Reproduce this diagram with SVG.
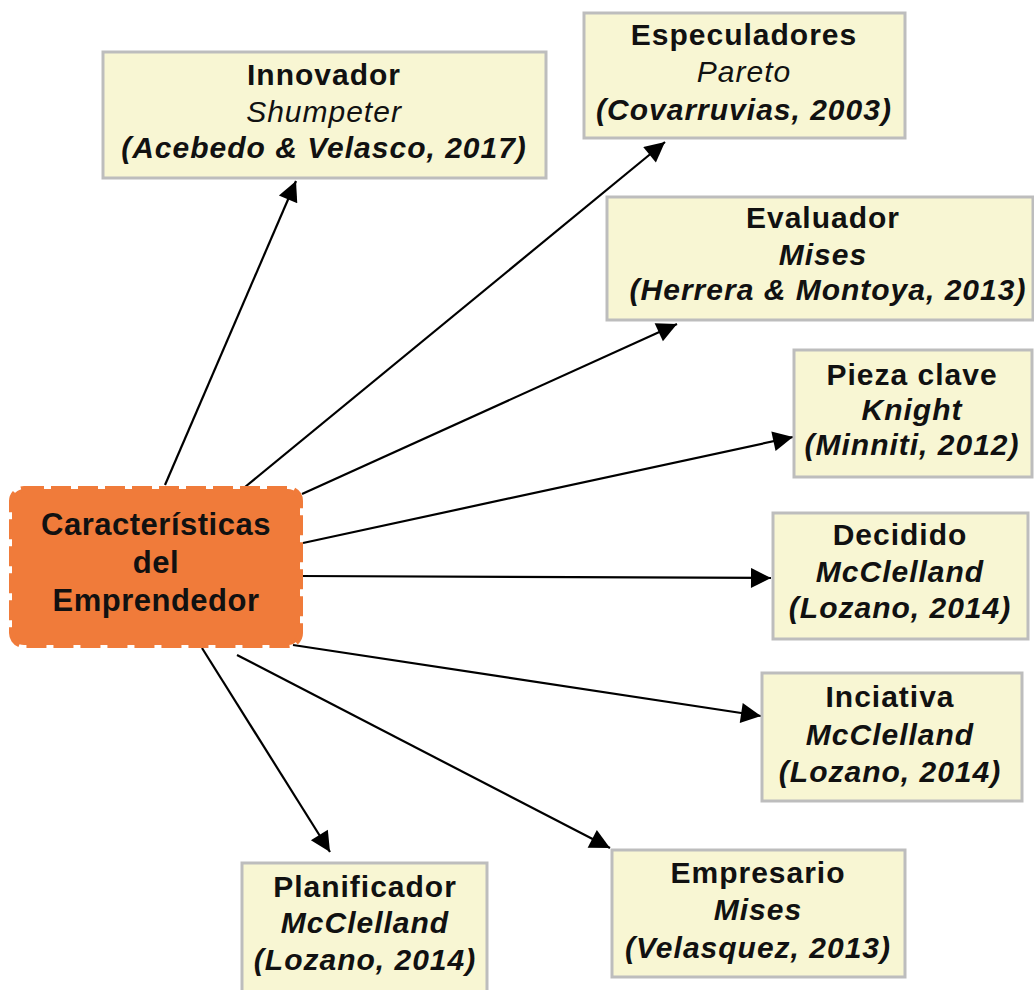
<svg xmlns="http://www.w3.org/2000/svg" width="1034" height="990" viewBox="0 0 1034 990">
  <defs>
    <marker id="arrow" viewBox="0 0 10 10" refX="10" refY="5" markerWidth="25" markerHeight="20" markerUnits="userSpaceOnUse" orient="auto">
      <path d="M0,0 L10,5 L0,10 z" fill="#000"/>
    </marker>
    <style>
      .box { fill: #F8F6D3; stroke: #BDBDBD; stroke-width: 3; }
      .t { font-family: "Liberation Sans", Arial, sans-serif; font-size: 30px; letter-spacing: 1px; fill: #111; text-anchor: middle; }
      .b { font-weight: bold; }
      .i { font-style: italic; }
      .bi { font-weight: bold; font-style: italic; }
      .hub { font-family: "Liberation Sans", Arial, sans-serif; font-size: 31px; letter-spacing: 0.5px; font-weight: bold; fill: #111; text-anchor: middle; }
      .edge { stroke: #000; stroke-width: 2.2; fill: none; marker-end: url(#arrow); }
    </style>
  </defs>
  <rect width="1034" height="990" fill="#fff"/>

  <!-- connectors -->
  <g id="connectors">
    <line class="edge" x1="165" y1="485" x2="296" y2="181"/>
    <line class="edge" x1="245" y1="487" x2="665" y2="142"/>
    <line class="edge" x1="302" y1="494" x2="677" y2="324"/>
    <line class="edge" x1="303" y1="543" x2="793" y2="437"/>
    <line class="edge" x1="299" y1="576" x2="771" y2="578"/>
    <line class="edge" x1="293" y1="645" x2="761" y2="716"/>
    <line class="edge" x1="237" y1="655" x2="610" y2="848"/>
    <line class="edge" x1="202" y1="648" x2="330" y2="852"/>
  </g>

  <!-- central node -->
  <g id="hub">
    <rect x="12" y="489" width="288" height="156" rx="12" fill="#F07B3A" stroke="#F07B3A" stroke-width="6" stroke-dasharray="20 7"/>
    <text class="hub" x="156" y="535">Características</text>
    <text class="hub" x="156" y="573">del</text>
    <text class="hub" x="156" y="611">Emprendedor</text>
  </g>

  <g id="innovador">
    <rect class="box" x="103" y="52" width="443" height="126"/>
    <text class="t b" x="324" y="85">Innovador</text>
    <text class="t i" x="324" y="122">Shumpeter</text>
    <text class="t bi" x="324" y="158">(Acebedo &amp; Velasco, 2017)</text>
  </g>

  <g id="especuladores">
    <rect class="box" x="584" y="13" width="321" height="125"/>
    <text class="t b" x="744" y="45">Especuladores</text>
    <text class="t i" x="744" y="82">Pareto</text>
    <text class="t bi" x="744" y="120">(Covarruvias, 2003)</text>
  </g>

  <g id="evaluador">
    <rect class="box" x="607" y="197" width="426" height="123"/>
    <text class="t b" x="823" y="228">Evaluador</text>
    <text class="t bi" x="823" y="265">Mises</text>
    <text class="t bi" x="828" y="300">(Herrera &amp; Montoya, 2013)</text>
  </g>

  <g id="pieza-clave">
    <rect class="box" x="794" y="350" width="238" height="127"/>
    <text class="t b" x="912" y="385">Pieza clave</text>
    <text class="t bi" x="912" y="420">Knight</text>
    <text class="t bi" x="912" y="455">(Minniti, 2012)</text>
  </g>

  <g id="decidido">
    <rect class="box" x="773" y="513" width="255" height="126"/>
    <text class="t b" x="900" y="545">Decidido</text>
    <text class="t bi" x="900" y="582">McClelland</text>
    <text class="t bi" x="900" y="618">(Lozano, 2014)</text>
  </g>

  <g id="inciativa">
    <rect class="box" x="762" y="673" width="260" height="128"/>
    <text class="t b" x="890" y="707">Inciativa</text>
    <text class="t bi" x="890" y="745">McClelland</text>
    <text class="t bi" x="890" y="782">(Lozano, 2014)</text>
  </g>

  <g id="empresario">
    <rect class="box" x="612" y="850" width="293" height="127"/>
    <text class="t b" x="758" y="883">Empresario</text>
    <text class="t bi" x="758" y="920">Mises</text>
    <text class="t bi" x="758" y="958">(Velasquez, 2013)</text>
  </g>

  <g id="planificador">
    <rect class="box" x="242" y="863" width="245" height="135"/>
    <text class="t b" x="365" y="897">Planificador</text>
    <text class="t bi" x="365" y="933">McClelland</text>
    <text class="t bi" x="365" y="970">(Lozano, 2014)</text>
  </g>
</svg>
